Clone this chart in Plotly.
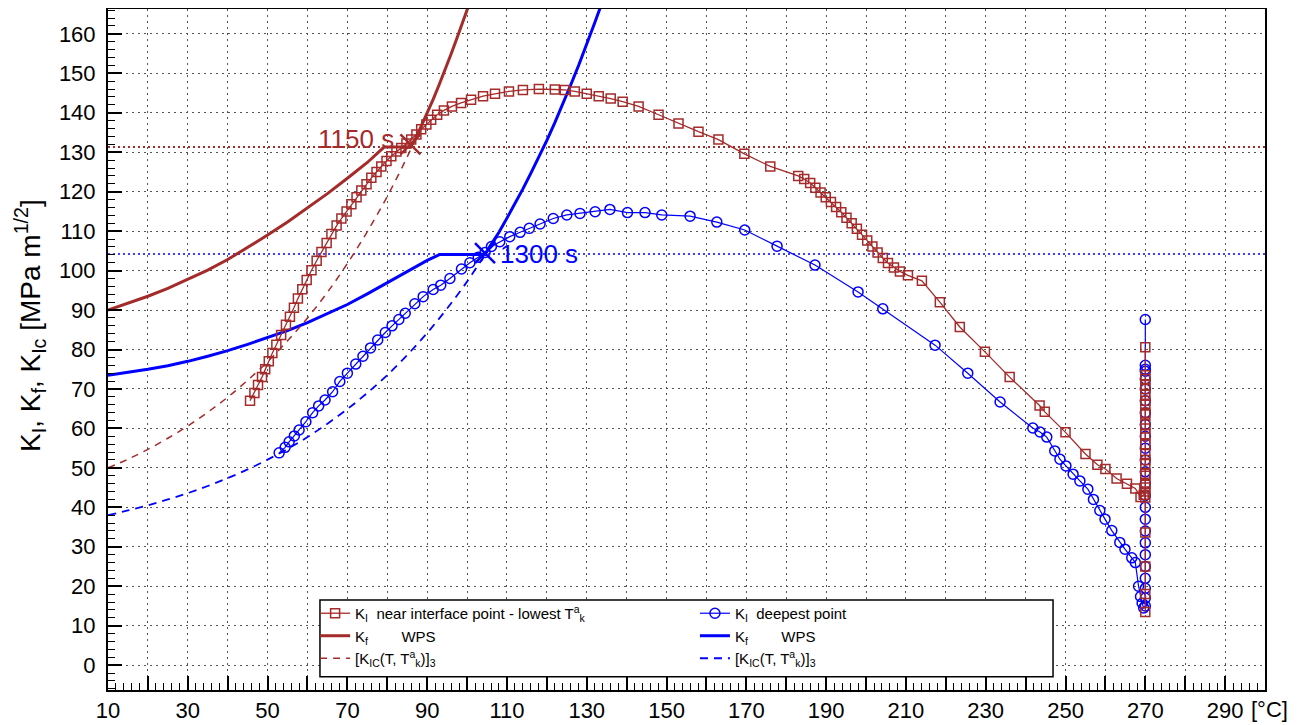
import plotly.graph_objects as go

RED = "#a52a2a"
BLUE = "#0000ff"
FONT = "Liberation Sans, Arial, Helvetica, sans-serif"

# ---------------- data ----------------
x_range = [10, 300]
y_range = [-6.3, 166.3]
x_tickvals = list(range(10, 301, 10))
x_ticktext = [str(v) if (v - 10) % 20 == 0 and v <= 290 else "" for v in x_tickvals]
y_tickvals = list(range(0, 161, 10))

# K_I near interface point - lowest T_k^a (red squares)
red_ki_x = [45.6, 46.7, 47.6, 48.6, 49.4, 50.3, 51.2, 52.2, 53.4, 54.6, 55.6, 56.6, 57.6, 58.7,
            59.8, 61.0, 62.3, 63.5, 64.8, 66.0, 67.3, 68.5, 69.8, 71.0, 72.3, 73.5, 74.8, 76.0,
            77.3, 78.5, 79.8, 81.0, 82.3, 83.5, 84.8, 86.0, 87.3, 88.5, 89.8, 91.0, 92.5, 94.2,
            96.2, 98.5, 101.0, 104.0, 107.0, 110.5, 114.0, 118.0, 122.0, 124.5, 127.0, 130.0,
            133.0, 136.0, 139.0, 143.0, 148.0, 153.0, 158.0, 163.0, 169.5, 176.0, 183.0, 184.5,
            186.0, 187.3, 188.6, 189.9, 191.2, 192.5, 193.8, 195.1, 196.4, 197.7, 199.0, 200.3,
            201.6, 202.9, 204.2, 205.5, 207.0, 208.5, 210.5, 214.0, 218.5, 223.5, 229.8, 236.0,
            243.5, 244.8, 250.0, 255.0, 258.0, 260.0, 262.8, 265.4, 267.5, 268.8, 269.6,
            270, 270, 270, 270, 270, 270, 270, 270, 270, 270, 270, 270, 270, 270,
            270, 270, 270, 270, 270, 270, 270, 270, 270, 270, 270, 270, 270, 270]
red_ki_y = [67.0, 69.0, 71.0, 73.0, 75.0, 77.0, 79.1, 81.2, 83.7, 86.3, 88.3, 90.6, 92.9, 95.3,
            97.6, 100.1, 102.5, 104.7, 107.0, 109.3, 111.4, 113.2, 115.0, 116.8, 118.6, 120.3, 121.9, 123.5,
            125.0, 126.4, 127.8, 129.0, 130.2, 131.1, 132.2, 133.2, 134.5, 135.8, 137.0, 138.2, 139.5, 140.6,
            141.6, 142.5, 143.3, 144.2, 144.8, 145.4, 145.8, 146.0, 145.9, 145.8, 145.4, 144.8,
            144.2, 143.6, 142.8, 141.6, 139.5, 137.3, 135.2, 133.2, 129.6, 126.4, 124.0, 123.2,
            122.2, 121.0, 119.8, 118.6, 117.4, 116.1, 114.8, 113.4, 112.0, 110.6, 109.1, 107.6,
            106.1, 104.6, 103.2, 101.9, 100.8, 99.8, 98.8, 97.4, 92.0, 85.7, 79.4, 73.0,
            65.8, 64.2, 59.0, 53.5, 50.8, 49.7, 47.3, 46.0, 44.8, 42.6, 43.2,
            44.0, 46.0, 48.5, 51.0, 53.5, 56.0, 58.5, 61.0, 63.5, 66.0, 68.5, 71.0, 72.5, 80.6,
            73.5, 70.0, 67.0, 64.0, 60.0, 56.0, 52.0, 48.0, 45.0, 42.5, 33.6, 25.0, 18.0, 13.5]

# K_f WPS (red solid)
red_kf_x = [10, 15, 20, 25, 30, 35, 40, 45, 50, 55, 60, 65, 70, 75, 79.2, 85.8,
            87, 88.5, 90, 91.5, 93, 94.5, 96, 97.5, 99, 100.8]
red_kf_y = [90.0, 91.7, 93.5, 95.5, 97.7, 100.1, 102.8, 105.8, 109.0, 112.3, 115.8, 119.5,
            123.4, 127.4, 131.3, 131.3, 133.2, 136.5, 139.9, 143.4, 147.1, 150.9, 154.9,
            159.0, 163.3, 168.3]

# [K_IC(T, T_k^a)]_3 (red dashed)
red_kic_x = [10, 15, 20, 25, 30, 35, 40, 45, 50, 55, 60, 65, 70, 75, 80, 85, 86]
red_kic_y = [50.0, 52.2, 54.7, 57.5, 60.6, 64.1, 67.9, 72.2, 76.9, 82.2, 88.0, 94.5, 101.8,
             109.9, 118.8, 128.8, 131.0]

# K_I deepest point (blue circles)
blue_ki_x = [52.9, 54.4, 55.4, 56.7, 57.9, 59.6, 61.3, 62.8, 64.4, 66.3, 68.1, 70.0, 72.1, 73.9,
             75.8, 77.6, 79.5, 81.2, 82.9, 84.5, 86.9, 89.0, 91.5, 93.4, 95.7, 98.6, 100.7, 102.8,
             104.5, 106.1, 108.2, 110.7, 113.3, 115.6, 118.3, 121.6, 125.0, 128.3, 132.1, 135.8,
             140.2, 144.6, 148.8, 155.9, 162.6, 169.6, 177.7, 187.2, 198.0, 204.2, 217.3, 225.5,
             233.6, 241.8, 243.6, 245.3, 247.3, 248.6, 250.1, 251.9, 253.6, 255.6, 257.0, 258.6,
             259.9, 261.6, 263.6, 264.9, 266.6, 267.5, 268.3, 268.8, 269.2, 269.6,
             270, 270, 270, 270, 270, 270, 270, 270, 270, 270, 270, 270, 270, 270, 270, 270,
             270, 270, 270, 270, 270, 270, 270, 270, 270]
blue_ki_y = [53.8, 55.2, 56.6, 58.1, 59.6, 61.7, 64.0, 65.7, 67.2, 69.3, 71.9, 74.0, 76.3, 78.3,
             80.4, 82.4, 84.3, 86.0, 87.6, 89.2, 91.6, 93.4, 95.2, 96.3, 98.0, 100.4, 102.0, 103.4,
             104.6, 106.1, 107.3, 108.6, 109.7, 110.7, 111.8, 113.2, 114.1, 114.5, 114.9, 115.5,
             114.7, 114.7, 114.1, 113.8, 112.3, 110.3, 106.2, 101.4, 94.6, 90.3, 81.1, 74.0,
             66.7, 60.1, 59.1, 57.8, 54.3, 52.2, 50.5, 48.4, 46.7, 44.6, 42.0, 39.2,
             37.0, 34.1, 31.1, 29.4, 27.2, 26.0, 20.0, 17.4, 15.7, 14.5,
             15.0, 17.0, 19.5, 22.0, 25.0, 28.0, 31.0, 34.0, 37.0, 40.0, 43.0, 46.0, 49.0, 52.0, 55.0, 58.0,
             61.0, 64.0, 67.0, 70.0, 72.5, 74.5, 76.0, 87.6, 75.0]

# K_f WPS (blue solid)
blue_kf_x = [10, 15, 20, 25, 30, 35, 40, 45, 50, 55, 60, 65, 70, 75, 80, 85, 90, 93.2, 104.5,
             106, 108, 110, 112, 114, 116, 118, 120, 122, 124, 126, 128, 130, 132, 134.5]
blue_kf_y = [73.5, 74.2, 75.0, 75.9, 77.0, 78.3, 79.7, 81.3, 83.0, 84.8, 86.8, 89.0, 91.4,
             94.1, 96.9, 99.8, 102.6, 104.1, 104.1, 106.6, 109.7, 113.3, 116.9, 120.7, 124.7,
             128.8, 133.0, 137.5, 142.2, 147.1, 152.1, 157.3, 162.8, 169.8]

# [K_IC(T, T_k^a)]_3 (blue dashed)
blue_kic_x = [10, 15, 20, 25, 30, 35, 40, 45, 50, 55, 60, 65, 70, 75, 80, 85, 90, 95, 100, 104.5]
blue_kic_y = [38.0, 39.2, 40.5, 42.0, 43.6, 45.4, 47.4, 49.6, 52.1, 54.8, 57.8, 61.2, 64.9,
              69.0, 73.5, 78.6, 84.2, 90.4, 97.2, 104.1]

# WPS crossing points, levels and labels
red_cross = (85.8, 132.0)
blue_cross = (104.5, 104.4)
red_level = 131.3
blue_level = 104.2
red_label = "1150 s"
red_label_pos = (82.2, 133.3)
blue_label = "1300 s"
blue_label_pos = (107.8, 104.2)
y_title = "K<sub>I</sub>, K<sub>f</sub>, K<sub>Ic</sub> [MPa m<sup>1/2</sup>]"
x_unit = "[°C]"

# ---------------- figure ----------------
fig = go.Figure()

fig.add_trace(go.Scatter(x=x_range, y=[blue_level, blue_level], mode="lines",
                         line=dict(color=BLUE, width=1.6, dash="2px,3px"),
                         showlegend=False, hoverinfo="skip"))
fig.add_trace(go.Scatter(x=x_range, y=[red_level, red_level], mode="lines",
                         line=dict(color=RED, width=2, dash="2px,3px"),
                         showlegend=False, hoverinfo="skip"))

# blue group
fig.add_trace(go.Scatter(x=blue_kic_x, y=blue_kic_y, mode="lines", line_shape="spline",
                         line=dict(color=BLUE, width=1.8, dash="8px,6px"),
                         name="[K<sub>IC</sub>(T, T<sup>a</sup><sub>k</sub>)]<sub>3</sub>",
                         legend="legend2", legendrank=3))
fig.add_trace(go.Scatter(x=blue_kf_x, y=blue_kf_y, mode="lines",
                         line=dict(color=BLUE, width=3),
                         name="K<sub>f</sub>\u00a0\u00a0\u00a0\u00a0\u00a0\u00a0\u00a0\u00a0WPS",
                         legend="legend2", legendrank=2))
fig.add_trace(go.Scatter(x=blue_ki_x, y=blue_ki_y, mode="lines+markers",
                         line=dict(color=BLUE, width=1.2),
                         marker=dict(symbol="circle-open", size=10, color=BLUE,
                                     line=dict(width=1.5, color=BLUE)),
                         name="K<sub>I</sub>\u00a0\u00a0deepest point",
                         legend="legend2", legendrank=1))

# red group
fig.add_trace(go.Scatter(x=red_kic_x, y=red_kic_y, mode="lines", line_shape="spline",
                         line=dict(color=RED, width=1.5, dash="7px,6px"),
                         name="[K<sub>IC</sub>(T, T<sup>a</sup><sub>k</sub>)]<sub>3</sub>",
                         legend="legend", legendrank=3))
fig.add_trace(go.Scatter(x=red_kf_x, y=red_kf_y, mode="lines",
                         line=dict(color=RED, width=3),
                         name="K<sub>f</sub>\u00a0\u00a0\u00a0\u00a0\u00a0\u00a0\u00a0\u00a0WPS",
                         legend="legend", legendrank=2))
fig.add_trace(go.Scatter(x=red_ki_x, y=red_ki_y, mode="lines+markers",
                         line=dict(color=RED, width=1.3),
                         marker=dict(symbol="square-open", size=9, color=RED,
                                     line=dict(width=1.5, color=RED)),
                         name="K<sub>I</sub>\u00a0\u00a0near interface point - lowest T<sup>a</sup><sub>k</sub>",
                         legend="legend", legendrank=1))

# crossing markers
fig.add_trace(go.Scatter(x=[red_cross[0]], y=[red_cross[1]], mode="markers",
                         marker=dict(symbol="x-thin", size=20, line=dict(width=2.5, color=RED)),
                         showlegend=False, hoverinfo="skip"))
fig.add_trace(go.Scatter(x=[blue_cross[0]], y=[blue_cross[1]], mode="markers",
                         marker=dict(symbol="x-thin", size=20, line=dict(width=2.5, color=BLUE)),
                         showlegend=False, hoverinfo="skip"))

fig.add_annotation(x=red_label_pos[0], y=red_label_pos[1], text=red_label, showarrow=False,
                   xanchor="right", yanchor="middle", font=dict(size=26, color=RED, family=FONT))
fig.add_annotation(x=blue_label_pos[0], y=blue_label_pos[1], text=blue_label, showarrow=False,
                   xanchor="left", yanchor="middle", font=dict(size=26, color=BLUE, family=FONT))

# x unit after the last tick label
fig.add_annotation(xref="paper", yref="paper", x=0.986, y=-0.028, text=x_unit, showarrow=False,
                   xanchor="left", yanchor="middle", font=dict(size=22, color="black", family=FONT))
# y axis title
fig.add_annotation(xref="paper", yref="paper", x=-0.0675, y=0.536, text=y_title, showarrow=False,
                   textangle=-90, xanchor="center", yanchor="middle",
                   font=dict(size=28, color="black", family=FONT))

# legend box
fig.add_shape(type="rect", xref="paper", yref="paper", x0=0.1832, x1=0.8168, y0=0.0195, y1=0.1322,
              line=dict(color="black", width=1.5), fillcolor="white", layer="above")

grid_dash = "2px,4px"
# the page body adds an 8 px offset, so the canvas is 8 px smaller each way
fig.update_layout(
    width=1291, height=717,
    margin=dict(l=100, r=34, t=1, b=35, autoexpand=False),
    paper_bgcolor="white", plot_bgcolor="white",
    font=dict(family=FONT, color="black"),
    xaxis=dict(range=x_range, tickmode="array", tickvals=x_tickvals, ticktext=x_ticktext,
               ticks="inside", ticklen=14, tickwidth=1.5, tickcolor="black", automargin=False,
               showline=True, linecolor="black", linewidth=2, mirror=True,
               showgrid=True, gridcolor="#555555", gridwidth=1, griddash=grid_dash,
               zeroline=False, tickfont=dict(size=22, family=FONT),
               minor=dict(dtick=2, tick0=10, ticks="inside", ticklen=7, tickwidth=1.2,
                          tickcolor="black", showgrid=False)),
    yaxis=dict(range=y_range, tickmode="array", tickvals=y_tickvals,
               ticks="inside", ticklen=14, tickwidth=1.5, tickcolor="black", automargin=False,
               showline=True, linecolor="black", linewidth=2, mirror=True,
               showgrid=True, gridcolor="#555555", gridwidth=1, griddash=grid_dash,
               zeroline=False, tickfont=dict(size=22, family=FONT), ticklabelstandoff=6,
               minor=dict(dtick=2, tick0=0, ticks="inside", ticklen=7, tickwidth=1.2,
                          tickcolor="black", showgrid=False)),
    legend=dict(x=0.179, y=0.1366, xanchor="left", yanchor="top", bgcolor="rgba(0,0,0,0)",
                borderwidth=0, font=dict(size=15, family=FONT), itemwidth=30,
                traceorder="normal"),
    legend2=dict(x=0.5073, y=0.1366, xanchor="left", yanchor="top", bgcolor="rgba(0,0,0,0)",
                 borderwidth=0, font=dict(size=15, family=FONT), itemwidth=30,
                 traceorder="normal"),
)

fig.write_html("out.html")
